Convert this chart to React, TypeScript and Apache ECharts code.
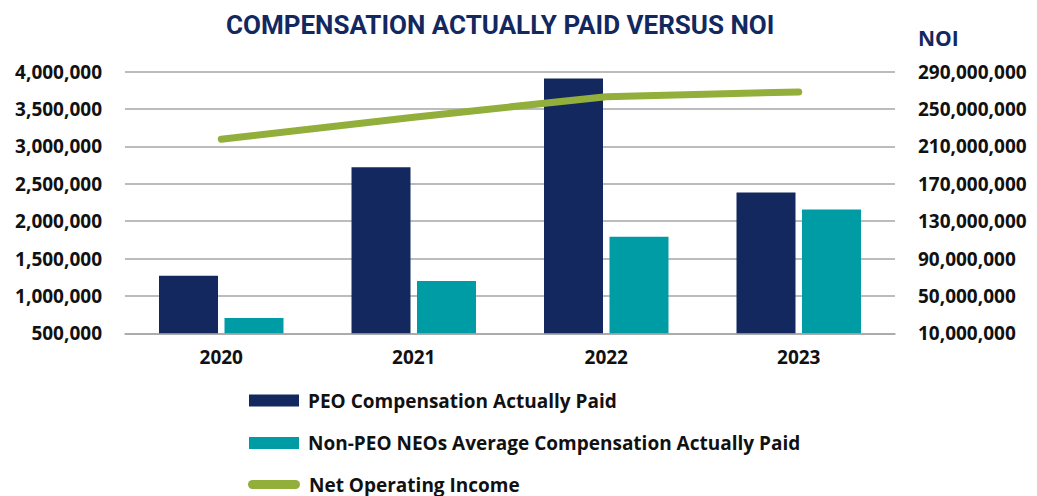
import React, { useEffect, useRef } from "react";
import * as echarts from "echarts";

const years = ["2020", "2021", "2022", "2023"];
const peoCap = [1270000, 2723000, 3909000, 2385000];
const nonPeoCap = [705000, 1200000, 1791000, 2158000];
const noi = [217800000, 241300000, 263300000, 268400000];

const NAVY = "#13285F";
const TEAL = "#009CA6";
const GREEN = "#92AE3B";
const GRID = "#A6A6A6";
const FONT = "'Open Sans', 'Noto Sans', sans-serif";

const fmt = (v: number) => v.toLocaleString("en-US");

const legendText = {
  fontFamily: FONT,
  fontWeight: "bold",
  fontSize: 19,
  lineHeight: 20,
  color: "#111111",
  padding: [0, 0, 0, 4],
};

export default function App() {
  const ref = useRef<HTMLDivElement>(null);
  useEffect(() => {
    if (!ref.current) return;
    const chart = echarts.init(ref.current, undefined, { renderer: "svg" });
    chart.setOption({
      animation: false,
      backgroundColor: "#ffffff",
      title: [
        {
          text: "COMPENSATION ACTUALLY PAID VERSUS NOI",
          left: 226,
          top: 11,
          padding: 0,
          textStyle: {
            fontFamily: "'Liberation Sans Narrow', 'Roboto', sans-serif",
            fontWeight: "bold",
            fontSize: 26,
            lineHeight: 28,
            color: NAVY,
          },
        },
        {
          text: "NOI",
          left: 918,
          top: 27,
          padding: 0,
          textStyle: {
            fontFamily: FONT,
            fontWeight: "bold",
            fontSize: 21,
            lineHeight: 22,
            color: NAVY,
          },
        },
      ],
      legend: [
        {
          orient: "vertical",
          left: 249,
          top: 390.5,
          height: 80,
          itemWidth: 50,
          itemHeight: 12,
          itemGap: 22.5,
          padding: 0,
          textStyle: legendText,
          data: [
            { name: "PEO Compensation Actually Paid", icon: "rect" },
            { name: "Non-PEO NEOs Average Compensation Actually Paid", icon: "rect" },
          ],
        },
        {
          orient: "vertical",
          left: 248,
          top: 474.5,
          itemWidth: 52,
          itemHeight: 9,
          padding: 0,
          textStyle: legendText,
          data: [
            {
              name: "Net Operating Income",
              icon: "path://M4.5,0 H47.5 A4.5,4.5 0 0 1 47.5,9 H4.5 A4.5,4.5 0 0 1 4.5,0 Z",
            },
          ],
        },
      ],
      grid: { left: 125, right: 142, top: 71.7, bottom: 162.7 },
      xAxis: {
        type: "category",
        data: years,
        axisLine: { show: true, lineStyle: { color: GRID, width: 1.5 } },
        axisTick: { show: false },
        axisLabel: {
          margin: 14,
          fontFamily: FONT,
          fontWeight: "bold",
          fontSize: 19,
          color: "#111111",
        },
      },
      yAxis: [
        {
          type: "value",
          min: 500000,
          max: 4000000,
          interval: 500000,
          axisLine: { show: false },
          axisTick: { show: false },
          splitLine: { show: true, lineStyle: { color: GRID, width: 1.5 } },
          axisLabel: {
            margin: 23,
            formatter: (v: number) => fmt(v),
            fontFamily: FONT,
            fontWeight: "bold",
            fontSize: 19,
            color: "#111111",
          },
        },
        {
          type: "value",
          min: 10000000,
          max: 290000000,
          interval: 40000000,
          position: "right",
          axisLine: { show: false },
          axisTick: { show: false },
          splitLine: { show: false },
          axisLabel: {
            margin: 23,
            formatter: (v: number) => fmt(v),
            fontFamily: FONT,
            fontWeight: "bold",
            fontSize: 19,
            color: "#111111",
          },
        },
      ],
      series: [
        {
          name: "PEO Compensation Actually Paid",
          type: "bar",
          data: peoCap,
          barWidth: 59,
          barGap: "11%",
          itemStyle: { color: NAVY },
        },
        {
          name: "Non-PEO NEOs Average Compensation Actually Paid",
          type: "bar",
          data: nonPeoCap,
          barWidth: 59,
          barGap: "11%",
          itemStyle: { color: TEAL },
        },
        {
          name: "Net Operating Income",
          type: "line",
          yAxisIndex: 1,
          data: noi,
          symbol: "none",
          z: 5,
          itemStyle: { color: GREEN },
          lineStyle: { color: GREEN, width: 7, cap: "round" },
        },
      ],
    });
    return () => chart.dispose();
  }, []);
  return (
    <div
      ref={ref}
      style={{ position: "fixed", left: 0, top: 0, width: 1037, height: 496 }}
    />
  );
}
